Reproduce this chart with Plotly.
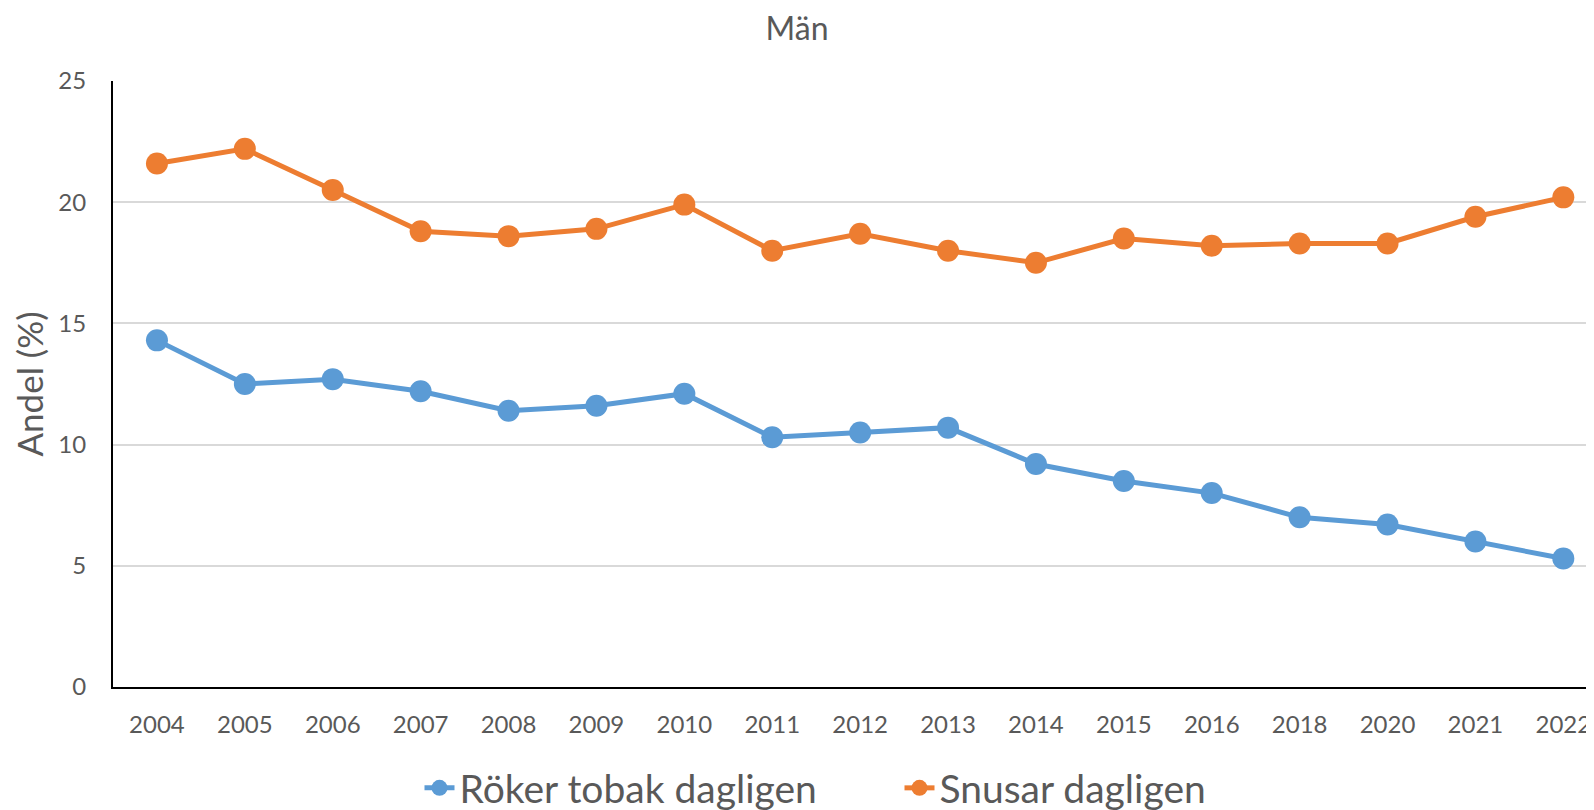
import plotly.graph_objects as go

years = ["2004", "2005", "2006", "2007", "2008", "2009", "2010", "2011", "2012",
         "2013", "2014", "2015", "2016", "2018", "2020", "2021", "2022"]
roker = [14.3, 12.5, 12.7, 12.2, 11.4, 11.6, 12.1, 10.3, 10.5, 10.7, 9.2, 8.5, 8.0, 7.0, 6.7, 6.0, 5.3]
snusar = [21.6, 22.2, 20.5, 18.8, 18.6, 18.9, 19.9, 18.0, 18.7, 18.0, 17.5, 18.5, 18.2, 18.3, 18.3, 19.4, 20.2]

FONT = "Lato"
TXT = "#595959"
W, H = 1594, 802  # page body has an 8px margin

fig = go.Figure()
fig.add_trace(go.Scatter(x=years, y=roker, mode="lines+markers", name="Röker tobak dagligen",
                         line=dict(color="#5B9BD5", width=5),
                         marker=dict(color="#5B9BD5", size=22)))
fig.add_trace(go.Scatter(x=years, y=snusar, mode="lines+markers", name="Snusar dagligen",
                         line=dict(color="#ED7D31", width=5),
                         marker=dict(color="#ED7D31", size=22)))

fig.update_layout(
    width=W, height=H,
    margin=dict(l=103, r=0, t=73, b=123),
    paper_bgcolor="white", plot_bgcolor="white",
    font=dict(family=FONT, color=TXT, size=24),
    title=dict(text="Män", x=789 / W, xanchor="center", xref="container",
               y=1 - 21 / H, yanchor="middle", yref="container",
               font=dict(size=32, color=TXT, family=FONT)),
    showlegend=True,
    legend=dict(orientation="h", x=891.5 / W, xanchor="center", xref="container",
                y=1 - 780 / H, yanchor="middle", yref="container",
                font=dict(size=39, color=TXT, family=FONT),
                entrywidth=435, tracegroupgap=0),
    xaxis=dict(type="category", range=[-0.5, 16.44], showgrid=False,
               showline=True, linecolor="black", linewidth=2,
               ticks="", ticklabelstandoff=15, ticklabeloverflow="allow",
               tickfont=dict(size=24, color=TXT, family=FONT), fixedrange=True),
    yaxis=dict(range=[0, 25], dtick=5, showgrid=True, gridcolor="#D9D9D9", gridwidth=1.5,
               showline=True, linecolor="black", linewidth=2, zeroline=False,
               ticks="", ticklabelstandoff=20,
               tickfont=dict(size=24, color=TXT, family=FONT),
               title=dict(text="Andel (%)", font=dict(size=35, color=TXT, family=FONT), standoff=26),
               fixedrange=True),
)

fig.write_html("out.html", post_script="document.body.style.overflow='hidden';")
